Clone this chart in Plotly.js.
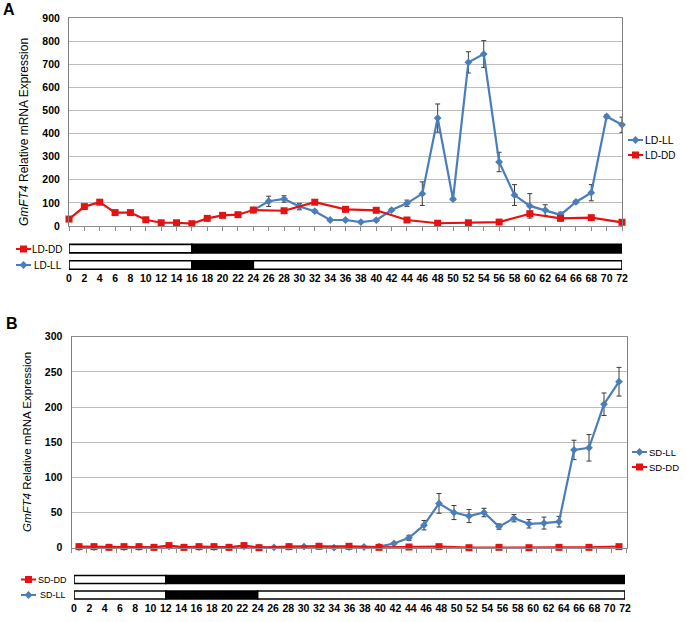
<!DOCTYPE html>
<html>
<head>
<meta charset="utf-8">
<script src="https://cdn.plot.ly/plotly-3.0.1.min.js"></script>
<style>
  body { margin: 0; background: #fff; }
  #chart { width: 686px; height: 622px; }
</style>
</head>
<body>
<div id="chart"></div>
<script>
// Sampling times (h)
let timeDD = [0, 2, 4, 6, 8, 10, 12, 14, 16, 18, 20, 22, 24, 28, 32, 36, 40, 44, 48, 52, 56, 60, 64, 68, 72];
let timeLDLL = [24, 26, 28, 30, 32, 34, 36, 38, 40, 42, 44, 46, 48, 50, 52, 54, 56, 58, 60, 62, 64, 66, 68, 70, 72];
let timeSDLL = [0, 2, 4, 6, 8, 10, 12, 14, 16, 18, 20, 22, 24, 26, 28, 30, 32, 34, 36, 38, 40, 42, 44, 46, 48, 50, 52, 54, 56, 58, 60, 62, 64, 66, 68, 70, 72];

// Panel A (long day)
let ldDD = [30, 84, 103, 58, 58, 27, 14, 14, 10, 33, 46, 49, 69, 66, 103, 72, 68, 26, 12, 14, 17, 53, 33, 36, 16];
let ldDDErr = [3, 5, 6, 4, 4, 3, 2, 2, 2, 3, 4, 4, 5, 5, 6, 5, 6, 4, 2, 3, 3, 11, 5, 5, 3];
let ldLL = [69, 107, 117, 84, 64, 26, 26, 17, 25, 69, 98, 140, 467, 116, 708, 744, 277, 134, 87, 69, 48, 104, 144, 474, 438];
let ldLLErr = [5, 22, 14, 14, 5, 4, 4, 3, 4, 5, 14, 51, 61, 5, 46, 58, 42, 45, 53, 23, 12, 6, 35, 6, 33];

// Panel B (short day)
let sdDD = [1.5, 1.5, 0.5, 1.5, 1.5, 0.5, 3, 0.5, 1.5, 1.5, 0.5, 3, 0, 1.5, 2, 2, 0.5, 1, 1.5, 0, 0.5, 0, 0.5, 0.5, 1.5];
let sdLL = [1, 1, 0.5, 1, 1, 0.5, 2, 0.5, 1, 1, 0.5, 2, 0.5, 0.5, 1.5, 1.5, 2, 0, 1, 1, 1.5, 6, 14, 32, 63, 50, 45, 50, 30, 42, 34, 35, 37, 139, 142, 204, 236];
let sdLLErr = [0.5, 0.5, 0.5, 0.5, 0.5, 0.5, 0.5, 0.5, 0.5, 0.5, 0.5, 0.5, 0.5, 0.5, 0.5, 0.5, 0.5, 0.5, 0.5, 0.5, 0.5, 1, 3.6, 6.7, 14, 10, 9.3, 6, 3.8, 5.2, 6, 8.5, 7.6, 13.8, 18.8, 16, 20.4];

// Light (0) / dark (1) phases of each treatment
let ldDDStart = [0, 16], ldDDEnd = [16, 72], ldDDDark = [0, 1];
let ldLLStart = [0, 16, 24], ldLLEnd = [16, 24, 72], ldLLDark = [0, 1, 0];
let sdDDStart = [0, 12], sdDDEnd = [12, 72], sdDDDark = [0, 1];
let sdLLStart = [0, 12, 24], sdLLEnd = [12, 24, 72], sdLLDark = [0, 1, 0];

let hourTicks = [];
for (let h = 0; h <= 72; h += 2) hourTicks.push(h);

const BLUE = "#4a7ebb";
const RED = "#e41212";
const W = 686, H = 622;

function px(x) { return x / W; }
function py(y) { return 1 - y / H; }

function series(name, x, y, err, color, symbol, xa, ya) {
    let t = {
        x: x, y: y, name: name, type: "scatter", mode: "lines+markers",
        xaxis: xa, yaxis: ya, showlegend: false, cliponaxis: false,
        line: { color: color, width: 2.2 },
        marker: { color: color, symbol: symbol, size: symbol == "square" ? 7 : 6 }
    };
    if (err) {
        t.error_y = { type: "data", array: err, visible: true, color: "#3a3a3a", thickness: 1, width: 2.5 };
    }
    return t;
}

function phaseBar(row, starts, ends, dark, xa, ya) {
    return {
        type: "bar", orientation: "h", xaxis: xa, yaxis: ya, showlegend: false,
        y: starts.map(() => row),
        base: starts,
        x: ends.map((e, i) => e - starts[i]),
        width: 0.52,
        marker: { color: dark.map(d => d ? "#000" : "#fff"), line: { color: "#000", width: 1.6 } }
    };
}

let traces = [
    series("LD-LL", timeLDLL, ldLL, ldLLErr, BLUE, "diamond", "x", "y"),
    series("LD-DD", timeDD, ldDD, ldDDErr, RED, "square", "x", "y"),
    series("SD-LL", timeSDLL, sdLL, sdLLErr, BLUE, "diamond", "x2", "y2"),
    series("SD-DD", timeDD, sdDD, null, RED, "square", "x2", "y2"),
    phaseBar(1, ldDDStart, ldDDEnd, ldDDDark, "x3", "y3"),
    phaseBar(0, ldLLStart, ldLLEnd, ldLLDark, "x3", "y3"),
    phaseBar(1, sdDDStart, sdDDEnd, sdDDDark, "x4", "y4"),
    phaseBar(0, sdLLStart, sdLLEnd, sdLLDark, "x4", "y4")
];

// legend keys (line with marker), drawn on a full-page pixel overlay
let keys = [
    { name: "LD-LL", color: BLUE, symbol: "diamond", x0: 628, x1: 643, y: 140, size: 10.5, tx: 643.5, align: "left" },
    { name: "LD-DD", color: RED, symbol: "square", x0: 628, x1: 643, y: 155, size: 10, tx: 643.5, align: "left" },
    { name: "LD-DD", color: RED, symbol: "square", x0: 16, x1: 31, y: 249, size: 10, tx: 64, align: "right" },
    { name: "LD-LL", color: BLUE, symbol: "diamond", x0: 16, x1: 31, y: 265, size: 10, tx: 63, align: "right" },
    { name: "SD-LL", color: BLUE, symbol: "diamond", x0: 632, x1: 647, y: 452, size: 9.5, tx: 647.5, align: "left" },
    { name: "SD-DD", color: RED, symbol: "square", x0: 632, x1: 647, y: 467, size: 9.5, tx: 647.5, align: "left" },
    { name: "SD-DD", color: RED, symbol: "square", x0: 21, x1: 36, y: 579.5, size: 9, tx: 68, align: "right" },
    { name: "SD-LL", color: BLUE, symbol: "diamond", x0: 21, x1: 36, y: 595, size: 9, tx: 67, align: "right" }
];

let annotations = [];
keys.forEach(k => {
    traces.push({
        type: "scatter", mode: "lines", xaxis: "x9", yaxis: "y9", showlegend: false,
        x: [k.x0, k.x1], y: [k.y, k.y], line: { color: k.color, width: 2 }
    });
    traces.push({
        type: "scatter", mode: "markers", xaxis: "x9", yaxis: "y9", showlegend: false,
        x: [(k.x0 + k.x1) / 2], y: [k.y],
        marker: { color: k.color, symbol: k.symbol, size: k.symbol == "square" ? 7 : 6 }
    });
    annotations.push({
        xref: "paper", yref: "paper", x: px(k.tx), y: py(k.y), showarrow: false, borderpad: 0,
        xanchor: k.align, yanchor: "middle",
        text: k.name, font: { family: "Arial", size: k.size, color: "#000" }
    });
});

// panel letters and y titles
annotations.push(
    { xref: "paper", yref: "paper", x: px(9), y: py(10), xanchor: "center", yanchor: "middle",
      showarrow: false, text: "A", font: { family: "Arial", size: 16, weight: "bold", color: "#000" } },
    { xref: "paper", yref: "paper", x: px(12), y: py(323), xanchor: "center", yanchor: "middle",
      showarrow: false, text: "B", font: { family: "Arial", size: 16, weight: "bold", color: "#000" } },
    { xref: "paper", yref: "paper", x: px(24), y: py(132), xanchor: "center", yanchor: "middle",
      showarrow: false, textangle: -90,
      text: "<i>GmFT4</i> Relative mRNA Expression", font: { family: "Arial", size: 12, color: "#000" } },
    { xref: "paper", yref: "paper", x: px(27), y: py(442), xanchor: "center", yanchor: "middle",
      showarrow: false, textangle: -90,
      text: "<i>GmFT4</i> Relative mRNA Expression", font: { family: "Arial", size: 11.5, color: "#000" } }
);

let tickFont = { family: "Arial", size: 10.5, weight: "bold", color: "#000" };

function valueAxis(domTop, domBottom, range, dtick, anchor) {
    return {
        domain: [py(domBottom), py(domTop)], range: range, dtick: dtick, anchor: anchor,
        showgrid: true, gridcolor: "#bdbdbd", gridwidth: 1, zeroline: false,
        showline: true, linecolor: "#7f7f7f", linewidth: 1, mirror: true,
        ticks: "", tickfont: tickFont, ticklabelstandoff: 6, fixedrange: true
    };
}

function timeAxis(left, right, range, tick0, anchor) {
    return {
        domain: [px(left), px(right)], range: range, anchor: anchor,
        tick0: tick0, dtick: 2, ticks: "outside", ticklen: 4, tickcolor: "#8c8c8c",
        showticklabels: false, showgrid: false, zeroline: false,
        showline: true, linecolor: "#8c8c8c", linewidth: 1, mirror: true, fixedrange: true
    };
}

function hourAxis(left, right, anchor) {
    return {
        domain: [px(left), px(right)], range: [0, 72], anchor: anchor,
        tickmode: "array", tickvals: hourTicks, ticktext: hourTicks.map(String),
        ticks: "", showline: false, showgrid: false, zeroline: false,
        tickfont: tickFont, ticklabelstandoff: 0, fixedrange: true
    };
}

function stripAxis(top, bottom, range, anchor) {
    return { domain: [py(bottom), py(top)], range: range, anchor: anchor, visible: false, fixedrange: true };
}

let layout = {
    width: W, height: H,
    margin: { l: 0, r: 0, t: 0, b: 0 },
    paper_bgcolor: "#fff", plot_bgcolor: "rgba(0,0,0,0)",
    showlegend: false, barmode: "overlay",
    font: { family: "Arial", color: "#000" },
    xaxis: timeAxis(69, 622, [0, 72], 0, "y"),
    yaxis: valueAxis(18, 226, [0, 900], 100, "x"),
    xaxis2: timeAxis(71.5, 626.5, [-1, 73], -1, "y2"),
    yaxis2: valueAxis(336.7, 547.7, [0, 300], 50, "x2"),
    xaxis3: hourAxis(69, 622, "y3"),
    yaxis3: stripAxis(240, 270, [-0.31, 1.53], "x3"),
    xaxis4: hourAxis(74, 625, "y4"),
    yaxis4: stripAxis(570, 600, [-0.32, 1.61], "x4"),
    xaxis9: { domain: [0, 1], range: [0, W], visible: false, anchor: "y9", fixedrange: true },
    yaxis9: { domain: [0, 1], range: [H, 0], visible: false, anchor: "x9", fixedrange: true },
    annotations: annotations
};

Plotly.newPlot("chart", traces, layout, { displayModeBar: false, staticPlot: true });
</script>
</body>
</html>
